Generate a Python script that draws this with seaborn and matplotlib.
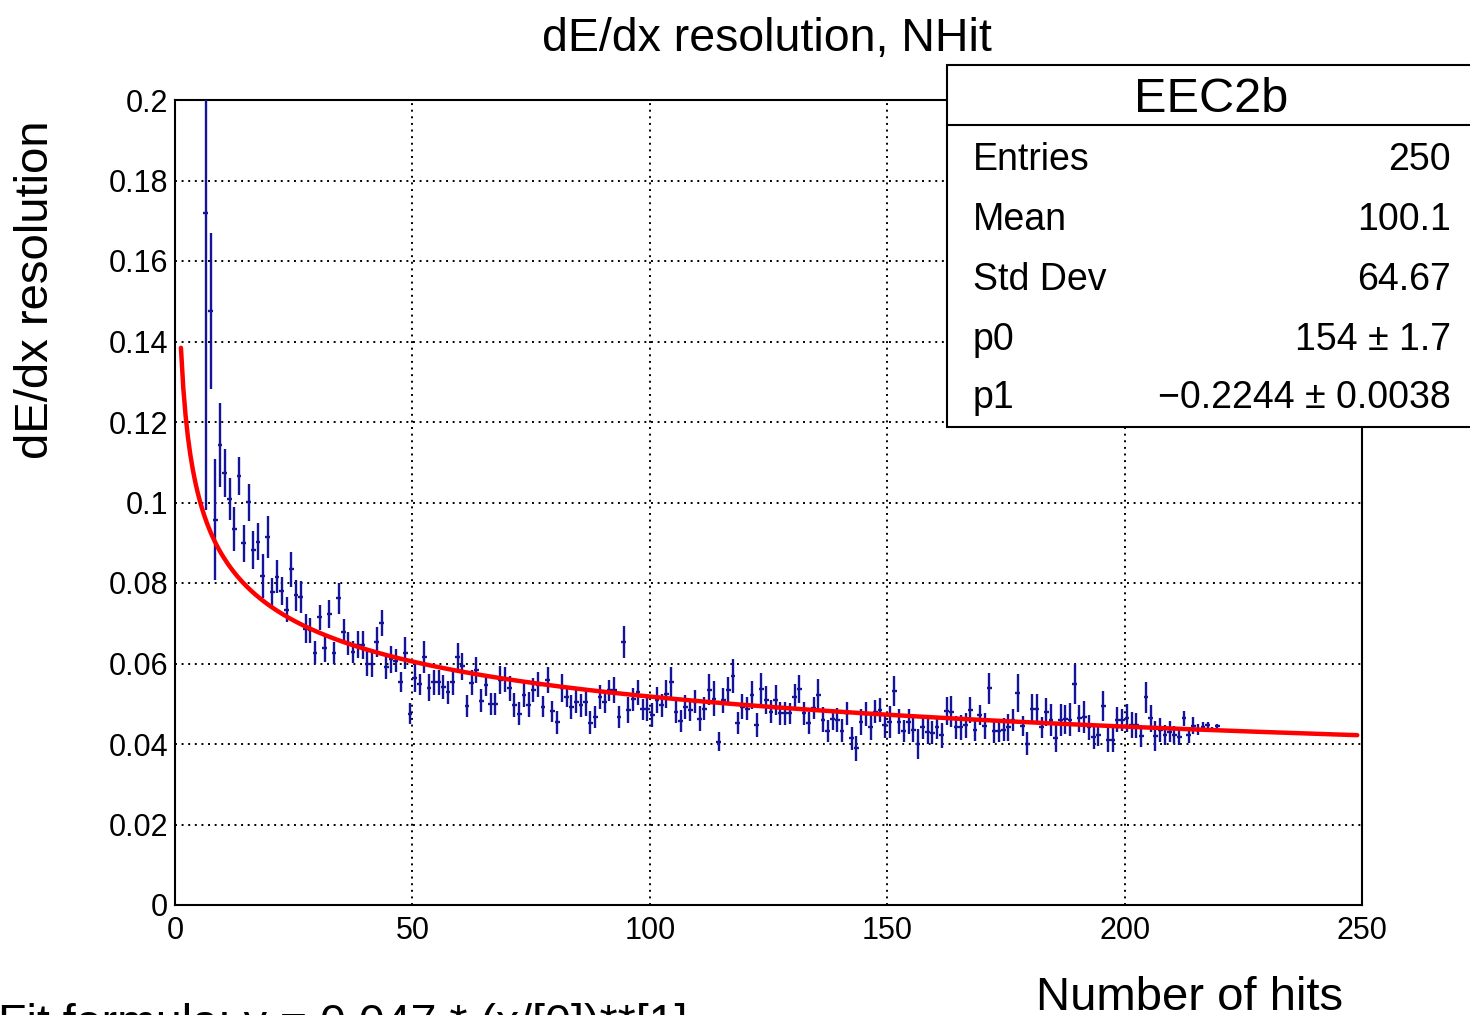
import numpy as np
import pandas as pd
import seaborn as sns
import matplotlib
matplotlib.use("Agg")
import matplotlib.pyplot as plt
from matplotlib.patches import Rectangle
from matplotlib.lines import Line2D
from matplotlib.ticker import MultipleLocator, FixedLocator

# ---------------- data ----------------
# histogram bins (1 hit wide), filled from 6 to 220 hits
nhit = np.arange(6.5, 220.0, 1.0)

resolution = [
    0.1719, 0.1476, 0.0957, 0.1143, 0.1073, 0.1009, 0.0934, 0.1066, 0.0899, 0.1001,
    0.0882, 0.0902, 0.0817, 0.0914, 0.0777, 0.0816, 0.0780, 0.0733, 0.0834, 0.0769,
    0.0766, 0.0686, 0.0683, 0.0627, 0.0715, 0.0638, 0.0723, 0.0627, 0.0762, 0.0679,
    0.0650, 0.0628, 0.0647, 0.0646, 0.0600, 0.0598, 0.0653, 0.0701, 0.0592, 0.0610,
    0.0607, 0.0553, 0.0626, 0.0475, 0.0565, 0.0548, 0.0616, 0.0540, 0.0553, 0.0553,
    0.0542, 0.0528, 0.0553, 0.0616, 0.0593, 0.0495, 0.0552, 0.0584, 0.0508, 0.0547,
    0.0500, 0.0500, 0.0558, 0.0561, 0.0538, 0.0497, 0.0475, 0.0522, 0.0497, 0.0534,
    0.0547, 0.0493, 0.0559, 0.0481, 0.0454, 0.0540, 0.0518, 0.0492, 0.0505, 0.0496,
    0.0505, 0.0453, 0.0467, 0.0517, 0.0505, 0.0533, 0.0535, 0.0467, 0.0653, 0.0484,
    0.0511, 0.0529, 0.0486, 0.0488, 0.0472, 0.0509, 0.0496, 0.0525, 0.0554, 0.0480,
    0.0458, 0.0492, 0.0484, 0.0505, 0.0463, 0.0488, 0.0535, 0.0513, 0.0406, 0.0509,
    0.0533, 0.0568, 0.0453, 0.0492, 0.0488, 0.0521, 0.0447, 0.0537, 0.0510, 0.0480,
    0.0509, 0.0476, 0.0476, 0.0476, 0.0517, 0.0537, 0.0476, 0.0453, 0.0490, 0.0521,
    0.0460, 0.0433, 0.0461, 0.0460, 0.0433, 0.0476, 0.0414, 0.0389, 0.0455, 0.0474,
    0.0441, 0.0480, 0.0484, 0.0447, 0.0455, 0.0532, 0.0455, 0.0433, 0.0455, 0.0435,
    0.0400, 0.0441, 0.0431, 0.0428, 0.0441, 0.0422, 0.0483, 0.0480, 0.0441, 0.0441,
    0.0447, 0.0484, 0.0436, 0.0472, 0.0445, 0.0538, 0.0433, 0.0433, 0.0436, 0.0441,
    0.0460, 0.0527, 0.0445, 0.0401, 0.0488, 0.0488, 0.0441, 0.0480, 0.0460, 0.0414,
    0.0460, 0.0461, 0.0460, 0.0549, 0.0464, 0.0468, 0.0441, 0.0418, 0.0422, 0.0494,
    0.0410, 0.0410, 0.0460, 0.0460, 0.0464, 0.0447, 0.0447, 0.0420, 0.0516, 0.0464,
    0.0420, 0.0435, 0.0422, 0.0431, 0.0422, 0.0418, 0.0464, 0.0422, 0.0445, 0.0436,
    0.0443, 0.0447, 0.0436, 0.0445,
]

resolution_err = [
    0.0738, 0.0193, 0.0150, 0.0104, 0.0059, 0.0052, 0.0054, 0.0048, 0.0046, 0.0046,
    0.0046, 0.0046, 0.0054, 0.0052, 0.0035, 0.0041, 0.0035, 0.0031, 0.0043, 0.0038,
    0.0040, 0.0036, 0.0031, 0.0029, 0.0031, 0.0035, 0.0036, 0.0027, 0.0038, 0.0031,
    0.0029, 0.0027, 0.0034, 0.0035, 0.0031, 0.0031, 0.0037, 0.0032, 0.0031, 0.0034,
    0.0029, 0.0025, 0.0040, 0.0026, 0.0035, 0.0027, 0.0040, 0.0033, 0.0031, 0.0031,
    0.0029, 0.0028, 0.0031, 0.0036, 0.0033, 0.0027, 0.0031, 0.0032, 0.0029, 0.0027,
    0.0027, 0.0027, 0.0035, 0.0031, 0.0031, 0.0029, 0.0029, 0.0029, 0.0031, 0.0029,
    0.0031, 0.0027, 0.0033, 0.0027, 0.0028, 0.0035, 0.0027, 0.0030, 0.0029, 0.0029,
    0.0035, 0.0028, 0.0027, 0.0029, 0.0027, 0.0027, 0.0032, 0.0028, 0.0039, 0.0032,
    0.0029, 0.0031, 0.0027, 0.0031, 0.0029, 0.0033, 0.0029, 0.0035, 0.0037, 0.0029,
    0.0027, 0.0029, 0.0028, 0.0029, 0.0031, 0.0029, 0.0039, 0.0043, 0.0023, 0.0031,
    0.0033, 0.0042, 0.0027, 0.0031, 0.0029, 0.0035, 0.0029, 0.0039, 0.0035, 0.0029,
    0.0037, 0.0029, 0.0029, 0.0027, 0.0031, 0.0035, 0.0029, 0.0027, 0.0028, 0.0041,
    0.0031, 0.0027, 0.0027, 0.0029, 0.0029, 0.0029, 0.0029, 0.0030, 0.0033, 0.0030,
    0.0031, 0.0029, 0.0030, 0.0031, 0.0039, 0.0037, 0.0031, 0.0027, 0.0031, 0.0030,
    0.0037, 0.0028, 0.0031, 0.0028, 0.0029, 0.0031, 0.0035, 0.0039, 0.0029, 0.0031,
    0.0031, 0.0032, 0.0029, 0.0025, 0.0033, 0.0039, 0.0030, 0.0029, 0.0029, 0.0033,
    0.0027, 0.0047, 0.0025, 0.0029, 0.0035, 0.0035, 0.0025, 0.0035, 0.0039, 0.0035,
    0.0039, 0.0037, 0.0041, 0.0050, 0.0033, 0.0040, 0.0030, 0.0031, 0.0027, 0.0037,
    0.0031, 0.0031, 0.0031, 0.0027, 0.0035, 0.0033, 0.0031, 0.0027, 0.0039, 0.0033,
    0.0037, 0.0029, 0.0025, 0.0025, 0.0023, 0.0021, 0.0019, 0.0019, 0.0021, 0.0014,
    0.0011, 0.0008, 0.0007, 0.0005,
]

# fit result: y = 0.047 * (x/p0)**p1
fit_scale = 0.047
p0, p0_err = 154, 1.7
p1, p1_err = -0.2244, 0.0038
fit_range = (1.25, 249.0)

stats_labels = ["Entries", "Mean", "Std Dev", "p0", "p1"]
stats_values = ["250", "100.1", "64.67",
                f"{p0} \u00b1 {p0_err}",
                f"\u2212{abs(p1):.4f} \u00b1 {p1_err:.4f}"]

x_ticks = [0, 50, 100, 150, 200, 250]
y_ticks = [0, 0.02, 0.04, 0.06, 0.08, 0.10, 0.12, 0.14, 0.16, 0.18, 0.20]
y_tick_labels = ["0", "0.02", "0.04", "0.06", "0.08", "0.1",
                 "0.12", "0.14", "0.16", "0.18", "0.2"]

# ---------------- style ----------------
sns.set_theme(style="white")
plt.rcParams["font.family"] = ["Liberation Sans", "DejaVu Sans"]
plt.rcParams["axes.linewidth"] = 1.5

W, H = 1470, 1015
fig = plt.figure(figsize=(W / 100, H / 100), dpi=100)
fig.patch.set_facecolor("white")


def fx(px):
    return px / W


def fy(py):
    return 1 - py / H


ax = fig.add_axes([fx(175), fy(905), fx(1362) - fx(175), fy(100) - fy(905)])
ax.set_facecolor("white")

df = pd.DataFrame({"nhit": nhit, "res": resolution, "err": resolution_err})

# measured points with bin-width x errors
ax.errorbar(df["nhit"], df["res"], yerr=df["err"], xerr=0.5, fmt="none",
            ecolor="#14149a", elinewidth=1.7, capsize=0, zorder=3)

# fitted power law
xf = np.linspace(fit_range[0], fit_range[1], 500)
fit_df = pd.DataFrame({"nhit": xf, "fit": fit_scale * (xf / p0) ** p1})
sns.lineplot(data=fit_df, x="nhit", y="fit", ax=ax, color="#ff0000",
             linewidth=3.2, zorder=4, legend=False)

ax.set_xlim(0, 250)
ax.set_ylim(0, 0.2)
ax.set_xlabel("")
ax.set_ylabel("")

ax.xaxis.set_major_locator(FixedLocator(x_ticks))
ax.xaxis.set_minor_locator(MultipleLocator(10))
ax.yaxis.set_major_locator(FixedLocator(y_ticks))
ax.yaxis.set_minor_locator(MultipleLocator(0.005))
ax.set_xticklabels([str(t) for t in x_ticks])
ax.set_yticklabels(y_tick_labels)

ax.tick_params(axis="both", which="both", direction="in", colors="black",
               width=1.2, top=False, right=False)
ax.tick_params(axis="y", which="major", length=27.5, pad=5, labelsize=22)
ax.tick_params(axis="y", which="minor", length=13)
ax.tick_params(axis="x", which="major", length=16.5, pad=8, labelsize=22)
ax.tick_params(axis="x", which="minor", length=7.5)

ax.grid(True, which="major", color="black", linestyle=(0, (1, 2.4)),
        linewidth=1.4)
for s in ax.spines.values():
    s.set_color("black")
    s.set_linewidth(1.5)
    s.set_visible(True)

# ---------------- text ----------------
fig.text(fx(767), fy(51), "dE/dx resolution, NHit", ha="center",
         va="baseline", fontsize=33.5, color="black")
fig.text(fx(36), fy(290), "dE/dx resolution", rotation=90, ha="center",
         va="center", fontsize=34, color="black")
fig.text(fx(1343), fy(1010), "Number of hits", ha="right", va="baseline",
         fontsize=34, color="black")
fig.text(fx(-2), fy(1037), "Fit formula: y = 0.047 * (x/[0])**[1]",
         ha="left", va="baseline", fontsize=33.5, color="black")

# ---------------- statistics box ----------------
box_l, box_t, box_b, box_r = 947, 65, 427, 1480
fig.patches.append(Rectangle((fx(box_l), fy(box_b)), fx(box_r) - fx(box_l),
                             fy(box_t) - fy(box_b), transform=fig.transFigure,
                             facecolor="white", edgecolor="black",
                             linewidth=1.5, zorder=10))
fig.lines.append(Line2D([fx(box_l), fx(box_r)], [fy(125), fy(125)],
                        transform=fig.transFigure, color="black",
                        linewidth=1.5, zorder=11))
fig.text(fx(1211), fy(112), "EEC2b", ha="center", va="baseline",
         fontsize=35, color="black", zorder=12)
row_base = [170, 230, 290, 350, 408]
for lab, val, yb in zip(stats_labels, stats_values, row_base):
    fig.text(fx(973), fy(yb), lab, ha="left", va="baseline", fontsize=27,
             color="black", zorder=12)
    fig.text(fx(1451), fy(yb), val, ha="right", va="baseline", fontsize=27,
             color="black", zorder=12)

fig.savefig("out.png", dpi=100, facecolor="white")
